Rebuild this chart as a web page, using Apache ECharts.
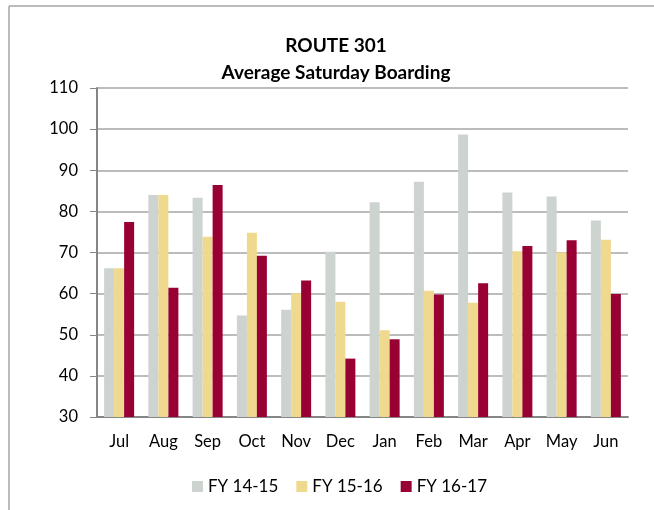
<!DOCTYPE html>
<html>
<head>
<meta charset="utf-8">
<script src="https://cdn.jsdelivr.net/npm/echarts@6/dist/echarts.min.js"></script>
<style>
    html, body { margin: 0; padding: 0; background: #fff; }
    #chart { width: 654px; height: 510px; }
</style>
</head>
<body>
<div id="chart"></div>
<script>
// months of the fiscal year
const months = ['Jul', 'Aug', 'Sep', 'Oct', 'Nov', 'Dec', 'Jan', 'Feb', 'Mar', 'Apr', 'May', 'Jun'];
const seriesNames = ['FY 14-15', 'FY 15-16', 'FY 16-17'];

// average saturday boardings
const fy1415 = [66.2, 84.0, 83.3, 54.7, 56.1, 70.2, 82.2, 87.2, 98.7, 84.6, 83.6, 77.8];
const fy1516 = [66.2, 84.0, 73.8, 74.8, 60.1, 58.0, 51.1, 60.7, 57.8, 70.3, 70.0, 73.1];
const fy1617 = [77.4, 61.4, 86.4, 69.2, 63.2, 44.2, 48.9, 59.8, 62.5, 71.6, 73.0, 59.9];

const colors = ['#CDD3CF', '#EFD98E', '#990033'];
const font = 'Lato, "Open Sans", sans-serif';

const chart = echarts.init(document.getElementById('chart'));

const makeBar = (name, data, i) => ({
    name: name,
    type: 'bar',
    data: data,
    barWidth: 10,
    barGap: '0%',
    itemStyle: {color: colors[i]},
    animation: false,
});

chart.setOption({
    textStyle: {fontFamily: font},
    title: {
        text: 'ROUTE 301\nAverage Saturday Boarding',
        left: 331,
        textAlign: 'center',
        top: 27,
        textStyle: {fontSize: 19, fontWeight: 'bold', color: '#000', lineHeight: 27, fontFamily: font},
    },
    legend: {
        data: seriesNames,
        left: 187,
        top: 473,
        icon: 'rect',
        itemWidth: 11,
        itemHeight: 11,
        itemGap: 18,
        textStyle: {fontSize: 17, color: '#000', fontFamily: font},
    },
    grid: {left: 97, right: 26, top: 88, bottom: 93},
    xAxis: {
        type: 'category',
        data: months,
        axisLine: {lineStyle: {color: '#868686', width: 2}},
        axisTick: {length: 6, lineStyle: {color: '#868686', width: 1}},
        axisLabel: {fontSize: 16.5, color: '#000', margin: 16},
    },
    yAxis: {
        type: 'value',
        min: 30,
        max: 110,
        interval: 10,
        axisLine: {show: true, lineStyle: {color: '#868686', width: 2}},
        axisTick: {show: true, length: 7, lineStyle: {color: '#868686', width: 1}},
        axisLabel: {fontSize: 16.5, color: '#000', margin: 19},
        splitLine: {lineStyle: {color: '#a6a6a6', width: 1.5}},
    },
    graphic: [
        // outer frame, only the top and left edges are visible
        {type: 'line', shape: {x1: 9, y1: 6, x2: 654, y2: 6}, style: {stroke: '#a6a6a6', lineWidth: 1.5}},
        {type: 'line', shape: {x1: 9, y1: 6, x2: 9, y2: 510}, style: {stroke: '#a6a6a6', lineWidth: 1.5}},
    ],
    series: [
        makeBar(seriesNames[0], fy1415, 0),
        makeBar(seriesNames[1], fy1516, 1),
        makeBar(seriesNames[2], fy1617, 2),
    ],
});
</script>
</body>
</html>
